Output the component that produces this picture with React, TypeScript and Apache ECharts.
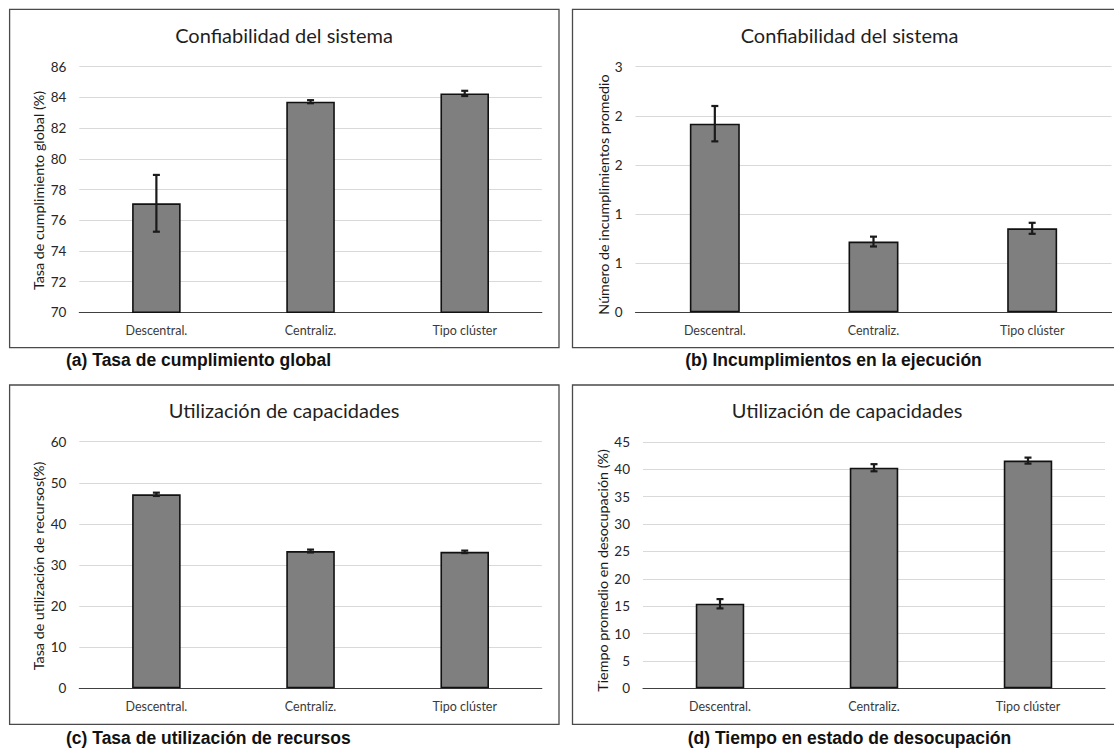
import React, { useEffect, useRef } from "react";
import * as echarts from "echarts";

// Categories shared by all four panels
const categories = ["Descentral.", "Centraliz.", "Tipo clúster"];

// (a) Tasa de cumplimiento global (%)
const cumplimientoMean = [77.1, 83.72, 84.26];
const cumplimientoErr = [1.85, 0.1, 0.17];
// (b) Número de incumplimientos promedio
const incumplimientosMean = [1.92, 0.72, 0.855];
const incumplimientosErr = [0.18, 0.05, 0.056];
const incumplimientosTickLabels = ["0", "1", "1", "2", "2", "3"];
// (c) Tasa de utilización de recursos (%)
const utilizacionMean = [47.2, 33.4, 33.2];
const utilizacionErr = [0.4, 0.35, 0.3];
// (d) Tiempo promedio en desocupación (%)
const desocupacionMean = [15.45, 40.3, 41.6];
const desocupacionErr = [0.85, 0.65, 0.55];

const panelTitles = [
  "Confiabilidad del sistema",
  "Confiabilidad del sistema",
  "Utilización de capacidades",
  "Utilización de capacidades",
];
const axisNames = [
  "Tasa de cumplimiento global (%)",
  "Número de incumplimientos promedio",
  "Tasa de utilización de recursos(%)",
  "Tiempo promedio en desocupación (%)",
];
const captions = [
  "(a) Tasa de cumplimiento global",
  "(b) Incumplimientos en la ejecución",
  "(c) Tasa de utilización de recursos",
  "(d) Tiempo en estado de desocupación",
];

const FONT = "Lato, 'Open Sans', sans-serif";

const grids = [
  { left: 79.3, top: 66.7, width: 462.5, height: 245.6 },
  { left: 635.5, top: 66.7, width: 476, height: 245.6 },
  { left: 79.3, top: 441.7, width: 462.5, height: 246.6 },
  { left: 643, top: 442, width: 462, height: 246.3 },
];

const axisRanges = [
  { min: 70, max: 86, interval: 2 },
  { min: 0, max: 2.5, interval: 0.5 },
  { min: 0, max: 60, interval: 10 },
  { min: 0, max: 45, interval: 5 },
];

const means = [cumplimientoMean, incumplimientosMean, utilizacionMean, desocupacionMean];
const errs = [cumplimientoErr, incumplimientosErr, utilizacionErr, desocupacionErr];

// frame boxes, title centres, axis-name centres, caption anchors
const boxes = [
  { x: 9.6, y: 9.3, w: 549.4, h: 338.4 },
  { x: 572.5, y: 9.3, w: 560, h: 338.4 },
  { x: 9.6, y: 385, w: 549.4, h: 339.3 },
  { x: 572.5, y: 385, w: 560, h: 339.3 },
];
const titlePos = [
  [284, 35],
  [849.5, 35],
  [284, 410],
  [847, 410],
];
const namePos = [
  [38.6, 190.5],
  [603, 194.5],
  [38.6, 566],
  [602.4, 570.5],
];
const captionPos = [
  [66, 360],
  [833.5, 360],
  [66, 737.7],
  [849.5, 737.7],
];
const captionAlign = ["left", "center", "left", "center"];

function errorBarRenderer(params: any, api: any) {
  const x = api.value(0);
  const m = api.value(1);
  const e = api.value(2);
  const top = api.coord([x, m + e]);
  const bot = api.coord([x, m - e]);
  const half = 3.5;
  const style = { stroke: "#1a1a1a", lineWidth: 2.2 };
  return {
    type: "group",
    children: [
      { type: "line", shape: { x1: top[0], y1: top[1], x2: bot[0], y2: bot[1] }, style },
      { type: "line", shape: { x1: top[0] - half, y1: top[1], x2: top[0] + half, y2: top[1] }, style },
      { type: "line", shape: { x1: bot[0] - half, y1: bot[1], x2: bot[0] + half, y2: bot[1] }, style },
    ],
  };
}

export default function App() {
  const ref = useRef<HTMLDivElement>(null);

  useEffect(() => {
    if (!ref.current) return;
    const chart = echarts.init(ref.current, undefined, { renderer: "svg" });

    const xAxis = grids.map((_, i) => ({
      type: "category",
      gridIndex: i,
      data: categories,
      axisTick: { show: false },
      axisLine: { lineStyle: { color: "#404040", width: 1.2 } },
      axisLabel: { color: "#3a3a3a", fontFamily: FONT, fontSize: 12.5, margin: 12 },
    }));

    const yAxis = grids.map((_, i) => ({
      type: "value",
      gridIndex: i,
      min: axisRanges[i].min,
      max: axisRanges[i].max,
      interval: axisRanges[i].interval,
      axisLine: { show: false },
      axisTick: { show: false },
      splitLine: { lineStyle: { color: "#d9d9d9", width: 1 } },
      axisLabel: {
        color: "#262626",
        fontFamily: FONT,
        fontSize: 13.5,
        margin: 13,
        formatter:
          i === 1
            ? (v: number) => incumplimientosTickLabels[Math.round(v / 0.5)]
            : (v: number) => String(v),
      },
    }));

    const series: any[] = [];
    grids.forEach((_, i) => {
      series.push({
        type: "bar",
        xAxisIndex: i,
        yAxisIndex: i,
        data: means[i],
        barWidth: "31.5%",
        itemStyle: { color: "#7f7f7f", borderColor: "#111", borderWidth: 1.6 },
        silent: true,
      });
      series.push({
        type: "custom",
        xAxisIndex: i,
        yAxisIndex: i,
        data: means[i].map((m, k) => [k, m, errs[i][k]]),
        encode: { x: 0, y: 1 },
        renderItem: errorBarRenderer,
        z: 10,
        silent: true,
      });
    });

    const graphic: any[] = [];
    boxes.forEach((b, i) => {
      graphic.push({
        type: "rect",
        shape: { x: b.x, y: b.y, width: b.w, height: b.h },
        style: { fill: "none", stroke: "#4a4a4a", lineWidth: 1.3 },
        silent: true,
      });
      graphic.push({
        type: "text",
        x: titlePos[i][0],
        y: titlePos[i][1],
        style: {
          text: panelTitles[i],
          fill: "#1f1f1f",
          font: `20px ${FONT}`,
          textAlign: "center",
          textVerticalAlign: "middle",
        },
      });
      graphic.push({
        type: "text",
        x: namePos[i][0],
        y: namePos[i][1],
        rotation: Math.PI / 2,
        style: {
          text: axisNames[i],
          fill: "#1a1a1a",
          font: `14.3px ${FONT}`,
          textAlign: "center",
          textVerticalAlign: "middle",
        },
      });
      graphic.push({
        type: "text",
        x: captionPos[i][0],
        y: captionPos[i][1],
        style: {
          text: captions[i],
          fill: "#111",
          font: `bold 17.5px 'Liberation Sans', Arial, sans-serif`,
          textAlign: captionAlign[i],
          textVerticalAlign: "middle",
        },
      });
    });

    chart.setOption({
      animation: false,
      backgroundColor: "#ffffff",
      grid: grids.map((g) => ({ ...g, containLabel: false })),
      xAxis,
      yAxis,
      series,
      graphic,
    });

    return () => chart.dispose();
  }, []);

  return (
    <div
      ref={ref}
      style={{ position: "fixed", left: 0, top: 0, width: 1114, height: 749 }}
    />
  );
}
